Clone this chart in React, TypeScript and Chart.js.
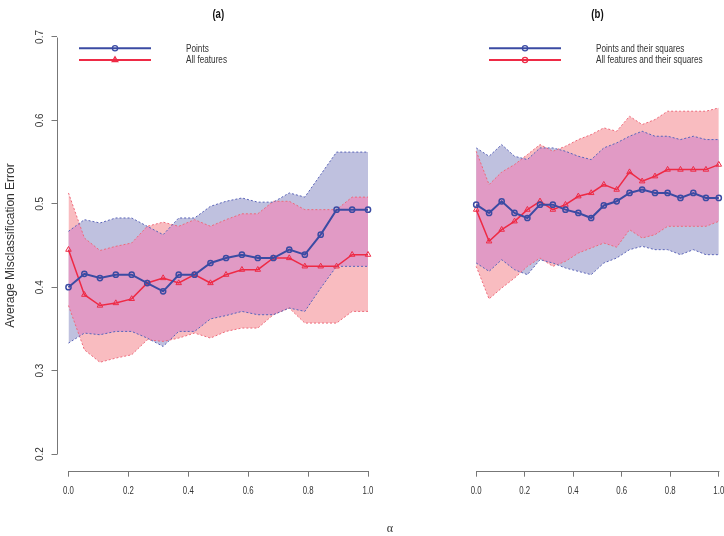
import React, { useEffect, useRef } from "react";
import { Chart, registerables } from "chart.js";

Chart.register(...registerables);

// ---------- data ----------
const alphaValues = [0, 0.053, 0.105, 0.158, 0.211, 0.263, 0.316, 0.368, 0.421, 0.474, 0.526, 0.579, 0.632, 0.684, 0.737, 0.789, 0.842, 0.895, 0.947, 1.0];
const xTickValues = [0, 0.2, 0.4, 0.6, 0.8, 1.0];
const yTickValues = [0.2, 0.3, 0.4, 0.5, 0.6, 0.7];

// Panel (a)
const aPointsMean = [0.400, 0.416, 0.411, 0.415, 0.415, 0.405, 0.395, 0.415, 0.415, 0.429, 0.435, 0.439, 0.435, 0.435, 0.445, 0.439, 0.463, 0.493, 0.493, 0.493];
const aPointsUpper = [0.467, 0.481, 0.477, 0.483, 0.483, 0.473, 0.463, 0.483, 0.483, 0.497, 0.503, 0.507, 0.502, 0.502, 0.513, 0.508, 0.535, 0.562, 0.562, 0.562];
const aPointsLower = [0.333, 0.345, 0.343, 0.347, 0.347, 0.339, 0.329, 0.347, 0.347, 0.362, 0.366, 0.371, 0.367, 0.367, 0.375, 0.371, 0.399, 0.425, 0.425, 0.425];
const aAllMean = [0.445, 0.391, 0.378, 0.381, 0.386, 0.405, 0.411, 0.405, 0.415, 0.405, 0.415, 0.421, 0.421, 0.435, 0.435, 0.425, 0.425, 0.425, 0.439, 0.439];
const aAllUpper = [0.513, 0.459, 0.444, 0.449, 0.453, 0.473, 0.478, 0.473, 0.481, 0.473, 0.481, 0.488, 0.488, 0.503, 0.503, 0.493, 0.493, 0.493, 0.508, 0.508];
const aAllLower = [0.378, 0.325, 0.310, 0.315, 0.319, 0.337, 0.335, 0.339, 0.345, 0.339, 0.347, 0.351, 0.351, 0.367, 0.375, 0.357, 0.357, 0.357, 0.371, 0.371];

// Panel (b)
const bPointsMean = [0.499, 0.489, 0.503, 0.489, 0.483, 0.499, 0.499, 0.493, 0.489, 0.483, 0.498, 0.503, 0.513, 0.517, 0.513, 0.513, 0.507, 0.513, 0.507, 0.507];
const bPointsUpper = [0.567, 0.557, 0.571, 0.557, 0.553, 0.567, 0.567, 0.563, 0.557, 0.553, 0.567, 0.573, 0.581, 0.587, 0.581, 0.581, 0.577, 0.581, 0.577, 0.577];
const bPointsLower = [0.429, 0.419, 0.433, 0.421, 0.415, 0.433, 0.429, 0.423, 0.419, 0.415, 0.429, 0.435, 0.445, 0.449, 0.445, 0.445, 0.439, 0.445, 0.439, 0.439];
const bAllMean = [0.493, 0.455, 0.469, 0.479, 0.493, 0.503, 0.493, 0.499, 0.509, 0.513, 0.523, 0.517, 0.538, 0.527, 0.533, 0.541, 0.541, 0.541, 0.541, 0.547];
const bAllUpper = [0.563, 0.523, 0.538, 0.547, 0.559, 0.571, 0.563, 0.569, 0.577, 0.583, 0.591, 0.587, 0.605, 0.595, 0.601, 0.611, 0.611, 0.611, 0.611, 0.615];
const bAllLower = [0.425, 0.386, 0.399, 0.411, 0.425, 0.435, 0.425, 0.431, 0.441, 0.447, 0.453, 0.448, 0.469, 0.459, 0.463, 0.473, 0.473, 0.473, 0.473, 0.479];

const legendA = ["Points", "All features"];
const legendB = ["Points and their squares", "All features and their squares"];
const yAxisTitle = "Average Misclassification Error";
const xAxisTitle = "α";

// ---------- styles ----------
const SANS = "'Liberation Sans', Arial, sans-serif";
const SERIF = "'Liberation Serif', 'DejaVu Serif', serif";
const BLUE_LINE = "#3B4BA3";
const RED_LINE = "#EE2A45";
const BLUE_EDGE = "#5A64B8";
const RED_EDGE = "#EE6A7A";
const BLUE_FILL = "#BFC1DF";
const RED_FILL = "#F9BCC0";
const OVERLAP_FILL = "#E19AC5";
const AXIS = "#777777";
const TEXT = "#333333";

type Panel = {
  key: string;
  title: string;
  legend: string[];
  redLegendMarker: "triangle" | "circle";
  pointsMean: number[];
  pointsUpper: number[];
  pointsLower: number[];
  allMean: number[];
  allUpper: number[];
  allLower: number[];
  showY: boolean;
  showXTitle: boolean;
  width: number;
  padLeft: number;
  padRight: number;
};

const panelA: Panel = {
  key: "a", title: "(a)", legend: legendA, redLegendMarker: "triangle",
  pointsMean: aPointsMean, pointsUpper: aPointsUpper, pointsLower: aPointsLower,
  allMean: aAllMean, allUpper: aAllUpper, allLower: aAllLower,
  showY: true, showXTitle: false, width: 390, padLeft: 0, padRight: 10,
};
const panelB: Panel = {
  key: "b", title: "(b)", legend: legendB, redLegendMarker: "circle",
  pointsMean: bPointsMean, pointsUpper: bPointsUpper, pointsLower: bPointsLower,
  allMean: bAllMean, allUpper: bAllUpper, allLower: bAllLower,
  showY: false, showXTitle: true, width: 354, padLeft: 30, padRight: 0.7,
};

const series = (vals: number[]) => alphaValues.map((x, i) => ({ x, y: vals[i] }));

function bandPath(ctx: CanvasRenderingContext2D, up: any[], lo: any[]) {
  ctx.beginPath();
  up.forEach((p, i) => (i ? ctx.lineTo(p.x, p.y) : ctx.moveTo(p.x, p.y)));
  for (let i = lo.length - 1; i >= 0; i--) ctx.lineTo(lo[i].x, lo[i].y);
  ctx.closePath();
}

function narrowText(ctx: CanvasRenderingContext2D, text: string, x: number, y: number, align: CanvasTextAlign, sx: number) {
  ctx.save();
  ctx.translate(x, y);
  ctx.scale(sx, 1);
  ctx.textAlign = align;
  ctx.textBaseline = "middle";
  ctx.fillText(text, 0, 0);
  ctx.restore();
}

function drawMarker(ctx: CanvasRenderingContext2D, style: string, x: number, y: number, r: number) {
  ctx.beginPath();
  if (style === "triangle") {
    let rad = 0;
    ctx.moveTo(x + Math.sin(rad) * r, y - Math.cos(rad) * r);
    rad += (2 * Math.PI) / 3;
    ctx.lineTo(x + Math.sin(rad) * r, y - Math.cos(rad) * r);
    rad += (2 * Math.PI) / 3;
    ctx.lineTo(x + Math.sin(rad) * r, y - Math.cos(rad) * r);
    ctx.closePath();
  } else {
    ctx.arc(x, y, r, 0, Math.PI * 2);
  }
  ctx.stroke();
}

function panelPlugin(p: Panel) {
  return {
    id: "panel_" + p.key,
    beforeDatasetsDraw(chart: any) {
      // overlap of the two bands, painted above the filler's fills
      const ctx = chart.ctx as CanvasRenderingContext2D;
      const a = chart.chartArea;
      const m = (i: number) => chart.getDatasetMeta(i).data;
      ctx.save();
      ctx.beginPath();
      ctx.rect(a.left, a.top, a.right - a.left, a.bottom - a.top);
      ctx.clip();
      bandPath(ctx, m(2), m(3));
      ctx.clip();
      bandPath(ctx, m(4), m(5));
      ctx.fillStyle = OVERLAP_FILL;
      ctx.fill();
      ctx.restore();
    },
    afterDraw(chart: any) {
      const ctx = chart.ctx as CanvasRenderingContext2D;
      const a = chart.chartArea;
      const xs = chart.scales.x;
      const ys = chart.scales.y;
      ctx.save();
      ctx.strokeStyle = AXIS;
      ctx.lineWidth = 1;
      // x axis line
      const yb = Math.round(a.bottom) + 0.5;
      ctx.beginPath();
      ctx.moveTo(Math.round(xs.getPixelForValue(xTickValues[0])) + 0.5, yb);
      ctx.lineTo(Math.round(xs.getPixelForValue(xTickValues[xTickValues.length - 1])) + 0.5, yb);
      ctx.stroke();
      // x tick labels
      ctx.fillStyle = TEXT;
      ctx.font = `10px ${SANS}`;
      xs.ticks.forEach((t: any) => {
        narrowText(ctx, Number(t.value).toFixed(1), xs.getPixelForValue(t.value), a.bottom + 20.5, "center", 0.78);
      });

      if (p.showY) {
        const xl = Math.round(a.left) + 0.5;
        ctx.beginPath();
        ctx.moveTo(xl, Math.round(ys.getPixelForValue(yTickValues[0])) + 0.5);
        ctx.lineTo(xl, Math.round(ys.getPixelForValue(yTickValues[yTickValues.length - 1])) + 0.5);
        ctx.stroke();
        // rotated tick labels
        ctx.fillStyle = TEXT;
        ctx.font = `10px ${SANS}`;
        ctx.textAlign = "center";
        ctx.textBaseline = "middle";
        ys.ticks.forEach((t: any) => {
          ctx.save();
          ctx.translate(a.left - 16, ys.getPixelForValue(t.value));
          ctx.rotate(-Math.PI / 2);
          ctx.fillText(Number(t.value).toFixed(1), 0, 0);
          ctx.restore();
        });
        // axis title
        ctx.save();
        ctx.font = `12px ${SANS}`;
        ctx.translate(11, (ys.getPixelForValue(0.2) + ys.getPixelForValue(0.7)) / 2);
        ctx.rotate(-Math.PI / 2);
        ctx.fillText(yAxisTitle, 0, 0);
        ctx.restore();
      }

      if (p.showXTitle) {
        ctx.fillStyle = TEXT;
        ctx.font = `12px ${SERIF}`;
        ctx.textAlign = "center";
        ctx.textBaseline = "middle";
        ctx.fillText(xAxisTitle, 10, 529);
      }

      // panel title
      ctx.fillStyle = "#111";
      ctx.font = `bold 12px ${SANS}`;
      narrowText(ctx, p.title, (xs.getPixelForValue(0) + xs.getPixelForValue(1)) / 2, 15, "center", 0.8);

      // legend
      const lx0 = a.left + 22.5;
      const lx1 = a.left + 94.5;
      const lxm = (lx0 + lx1) / 2;
      const rows = [
        { y: a.top + 28, color: BLUE_LINE, marker: "circle", r: 2.6, text: p.legend[0] },
        { y: a.top + 39.7, color: RED_LINE, marker: p.redLegendMarker, r: p.redLegendMarker === "circle" ? 2.6 : 3.2, text: p.legend[1] },
      ];
      rows.forEach((row) => {
        ctx.strokeStyle = row.color;
        ctx.lineWidth = 2;
        ctx.beginPath();
        ctx.moveTo(lx0, row.y);
        ctx.lineTo(lx1, row.y);
        ctx.stroke();
        ctx.lineWidth = 1.3;
        drawMarker(ctx, row.marker, lxm, row.y, row.r);
        ctx.fillStyle = TEXT;
        ctx.font = `10px ${SANS}`;
        narrowText(ctx, row.text, a.left + 129.5, row.y + 0.5, "left", 0.82);
      });
      ctx.restore();
    },
  };
}

function buildChart(canvas: HTMLCanvasElement, p: Panel) {
  const edge = (color: string) => ({
    borderColor: color,
    borderWidth: 1,
    borderDash: [2, 2],
    pointRadius: 0,
    pointHoverRadius: 0,
  });
  return new Chart(canvas, {
    type: "line",
    data: {
      datasets: [
        {
          data: series(p.pointsMean),
          borderColor: BLUE_LINE,
          borderWidth: 2,
          pointStyle: "circle",
          pointRadius: 2.6,
          pointBorderWidth: 1.5,
          pointBorderColor: BLUE_LINE,
          pointBackgroundColor: "rgba(0,0,0,0)",
          fill: false,
        },
        {
          data: series(p.allMean),
          borderColor: RED_LINE,
          borderWidth: 1.5,
          pointStyle: "triangle",
          pointRadius: 3.2,
          pointBorderWidth: 1,
          pointBorderColor: RED_LINE,
          pointBackgroundColor: "rgba(0,0,0,0)",
          fill: false,
        },
        { data: series(p.pointsUpper), ...edge(BLUE_EDGE), fill: "+1", backgroundColor: BLUE_FILL },
        { data: series(p.pointsLower), ...edge(BLUE_EDGE), fill: false },
        { data: series(p.allUpper), ...edge(RED_EDGE), fill: "+1", backgroundColor: RED_FILL },
        { data: series(p.allLower), ...edge(RED_EDGE), fill: false },
      ] as any,
    },
    options: {
      animation: false,
      responsive: false,
      events: [],
      layout: { padding: { top: 20.3, left: p.padLeft, right: p.padRight, bottom: 0 } },
      plugins: {
        legend: { display: false },
        tooltip: { enabled: false },
        title: { display: false },
        filler: { drawTime: "beforeDraw" },
      },
      scales: {
        x: {
          type: "linear",
          min: -0.04,
          max: 1.04,
          afterBuildTicks: (s: any) => {
            s.ticks = xTickValues.map((v) => ({ value: v }));
          },
          afterFit: (s: any) => {
            s.height = 65.3;
          },
          grid: { display: true, drawOnChartArea: false, drawTicks: true, tickLength: 6, color: AXIS, lineWidth: 1 },
          border: { display: false },
          ticks: { display: false },
        },
        y: {
          type: "linear",
          display: p.showY,
          min: 0.18,
          max: 0.72,
          afterBuildTicks: (s: any) => {
            s.ticks = yTickValues.map((v) => ({ value: v }));
          },
          afterFit: (s: any) => {
            s.width = 56.5;
          },
          grid: { display: true, drawOnChartArea: false, drawTicks: true, tickLength: 5, color: AXIS, lineWidth: 1 },
          border: { display: false },
          ticks: { display: false },
        },
      },
    } as any,
    plugins: [panelPlugin(p)],
  });
}

export default function App() {
  const refA = useRef<HTMLCanvasElement>(null);
  const refB = useRef<HTMLCanvasElement>(null);
  useEffect(() => {
    const cA = buildChart(refA.current!, panelA);
    const cB = buildChart(refB.current!, panelB);
    return () => {
      cA.destroy();
      cB.destroy();
    };
  }, []);
  return (
    <div style={{ position: "absolute", left: 0, top: 0, width: 724, height: 536, overflow: "hidden", background: "#fff" }}>
      <canvas ref={refA} width={panelA.width} height={536} style={{ position: "absolute", left: 0, top: 0 }} />
      <canvas ref={refB} width={panelB.width} height={536} style={{ position: "absolute", left: 380, top: 0 }} />
    </div>
  );
}
